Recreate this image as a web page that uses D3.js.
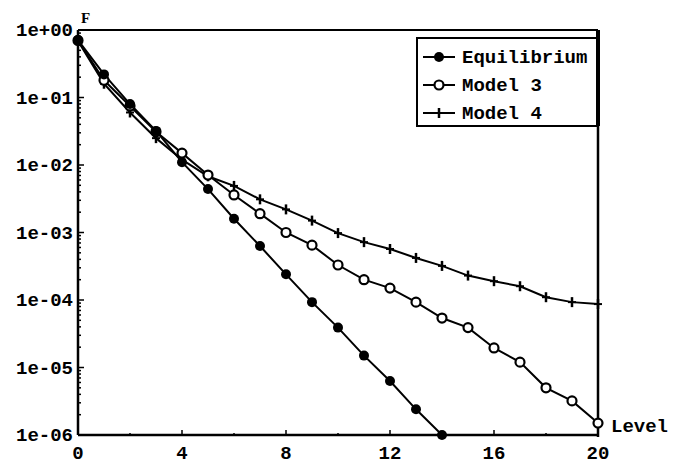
<!DOCTYPE html>
<html>
<head>
<meta charset="utf-8">
<script src="https://cdn.jsdelivr.net/npm/d3@7"></script>
<style>
  body { margin: 0; background: #fff; }
  svg text { font-family: "Liberation Mono", "DejaVu Sans Mono", monospace; font-weight: bold; fill: #000; }
</style>
</head>
<body>
<svg id="chart" width="681" height="465"></svg>
<script>
// levels on the x axis
var levels = d3.range(0, 21);

// series values
var equilibrium = [0.71, 0.22, 0.08, 0.032, 0.011, 0.0044, 0.0016, 6.3e-4, 2.4e-4, 9.3e-5,
                   3.9e-5, 1.5e-5, 6.3e-6, 2.4e-6, 1.0e-6];
var model3 = [0.70, 0.18, 0.075, 0.031, 0.015, 0.0071, 0.0036, 0.0019, 0.0010, 6.5e-4,
              3.3e-4, 2.0e-4, 1.5e-4, 9.3e-5, 5.4e-5, 3.9e-5, 1.95e-5, 1.2e-5, 5.0e-6, 3.2e-6, 1.5e-6];
var model4 = [0.69, 0.16, 0.06, 0.025, 0.012, 0.0068, 0.0049, 0.0031, 0.0022, 0.0015,
              9.8e-4, 7.2e-4, 5.7e-4, 4.2e-4, 3.2e-4, 2.3e-4, 1.9e-4, 1.6e-4, 1.1e-4, 9.3e-5, 8.7e-5];

var seriesNames = ["Equilibrium", "Model 3", "Model 4"];

// tick labels
var xTicks = [0, 4, 8, 12, 16, 20];
var yTicks = [1, 1e-1, 1e-2, 1e-3, 1e-4, 1e-5, 1e-6];
var yTickLabels = ["1e+00", "1e-01", "1e-02", "1e-03", "1e-04", "1e-05", "1e-06"];

var svg = d3.select("#chart");

var x = d3.scaleLinear().domain([0, 20]).range([78, 598]);
var y = d3.scaleLog().domain([1e-6, 1]).range([435, 30]);

// clip so lines stay inside the frame
svg.append("defs").append("clipPath").attr("id", "plot-clip")
    .append("rect")
    .attr("x", x(0) - 8).attr("y", y(1) - 12)
    .attr("width", x(20) - x(0) + 16).attr("height", y(1e-6) - y(1) + 12);

// frame: left, bottom, top, right
var frame = svg.append("g").attr("stroke", "#000").attr("fill", "none");
frame.append("line").attr("x1", x(0)).attr("x2", x(0)).attr("y1", y(1)).attr("y2", y(1e-6)).attr("stroke-width", 2.5);
frame.append("line").attr("x1", x(0)).attr("x2", x(20)).attr("y1", y(1e-6)).attr("y2", y(1e-6)).attr("stroke-width", 2.5);
frame.append("line").attr("x1", x(0)).attr("x2", x(20)).attr("y1", y(1)).attr("y2", y(1)).attr("stroke-width", 1.8);
frame.append("line").attr("x1", x(20)).attr("x2", x(20)).attr("y1", y(1)).attr("y2", y(1e-6) + 2).attr("stroke-width", 2.5);

// y axis ticks (major and minor, pointing inward)
var yAll = y.ticks();
svg.append("g").selectAll("line")
    .data(yAll)
    .enter()
    .append("line")
    .attr("x1", x(0))
    .attr("x2", function(d) {
        var isMajor = Math.abs(Math.log10(d) - Math.round(Math.log10(d))) < 1e-6;
        return x(0) + (isMajor ? 6 : 3);
    })
    .attr("y1", function(d) { return y(d); })
    .attr("y2", function(d) { return y(d); })
    .attr("stroke", "#000")
    .attr("stroke-width", 1.5);

svg.append("g").selectAll("text")
    .data(yTicks)
    .enter()
    .append("text")
    .attr("x", x(0) - 5)
    .attr("y", function(d) { return y(d) + 6; })
    .attr("text-anchor", "end")
    .style("font-size", "19px")
    .text(function(d, i) { return yTickLabels[i]; });

// x axis ticks every 2 levels, longer at labelled ones
svg.append("g").selectAll("line")
    .data(d3.range(2, 20, 2))
    .enter()
    .append("line")
    .attr("x1", function(d) { return x(d); })
    .attr("x2", function(d) { return x(d); })
    .attr("y1", y(1e-6))
    .attr("y2", function(d) { return y(1e-6) - (d % 4 === 0 ? 5 : 2); })
    .attr("stroke", "#000")
    .attr("stroke-width", 1.5);

svg.append("g").selectAll("text")
    .data(xTicks)
    .enter()
    .append("text")
    .attr("x", function(d) { return x(d); })
    .attr("y", 459)
    .attr("text-anchor", "middle")
    .style("font-size", "19px")
    .text(function(d) { return d; });

// axis titles
svg.append("text").attr("x", 81).attr("y", 23).style("font-size", "15px")
    .style("font-family", "'Liberation Serif', serif").text("F");
svg.append("text").attr("x", 611).attr("y", 432).style("font-size", "19px").text("Level");

// lines
var line = d3.line()
    .x(function(d, i) { return x(levels[i]); })
    .y(function(d) { return y(d); });

var plot = svg.append("g").attr("clip-path", "url(#plot-clip)");

[equilibrium, model3, model4].forEach(function(values) {
    plot.append("path")
        .datum(values)
        .attr("d", line)
        .attr("fill", "none")
        .attr("stroke", "#000")
        .attr("stroke-width", 2);
});

// markers
function drawFilled(g, cx, cy) {
    g.append("circle").attr("cx", cx).attr("cy", cy).attr("r", 5).attr("fill", "#000");
}
function drawOpen(g, cx, cy) {
    g.append("circle").attr("cx", cx).attr("cy", cy).attr("r", 4.5)
        .attr("fill", "#fff").attr("stroke", "#000").attr("stroke-width", 2.2);
}
function drawPlus(g, cx, cy) {
    g.append("line").attr("x1", cx).attr("x2", cx).attr("y1", cy - 5).attr("y2", cy + 5)
        .attr("stroke", "#000").attr("stroke-width", 2.5);
    g.append("line").attr("x1", cx - 4).attr("x2", cx + 4).attr("y1", cy).attr("y2", cy)
        .attr("stroke", "#000").attr("stroke-width", 2);
}

var markerG = svg.append("g");
model4.forEach(function(v, i) { drawPlus(markerG, x(levels[i]), y(v)); });
model3.forEach(function(v, i) { drawOpen(markerG, x(levels[i]), y(v)); });
equilibrium.forEach(function(v, i) { drawFilled(markerG, x(levels[i]), y(v)); });

// legend
var legend = svg.append("g");
legend.append("rect")
    .attr("x", 417).attr("y", 38).attr("width", 181).attr("height", 88)
    .attr("fill", "#fff").attr("stroke", "#000").attr("stroke-width", 2);

var markerFns = [drawFilled, drawOpen, drawPlus];
seriesNames.forEach(function(name, i) {
    var ly = 57 + i * 28;
    legend.append("line").attr("x1", 423).attr("x2", 455).attr("y1", ly).attr("y2", ly)
        .attr("stroke", "#000").attr("stroke-width", 2);
    markerFns[i](legend, 439, ly);
    legend.append("text").attr("x", 462).attr("y", ly + 6)
        .style("font-size", "19px")
        .text(name);
});

// heavy right edge of the legend, drawn over the text like the original
legend.append("line").attr("x1", 598).attr("x2", 598).attr("y1", 30).attr("y2", 126)
    .attr("stroke", "#000").attr("stroke-width", 4);
</script>
</body>
</html>
